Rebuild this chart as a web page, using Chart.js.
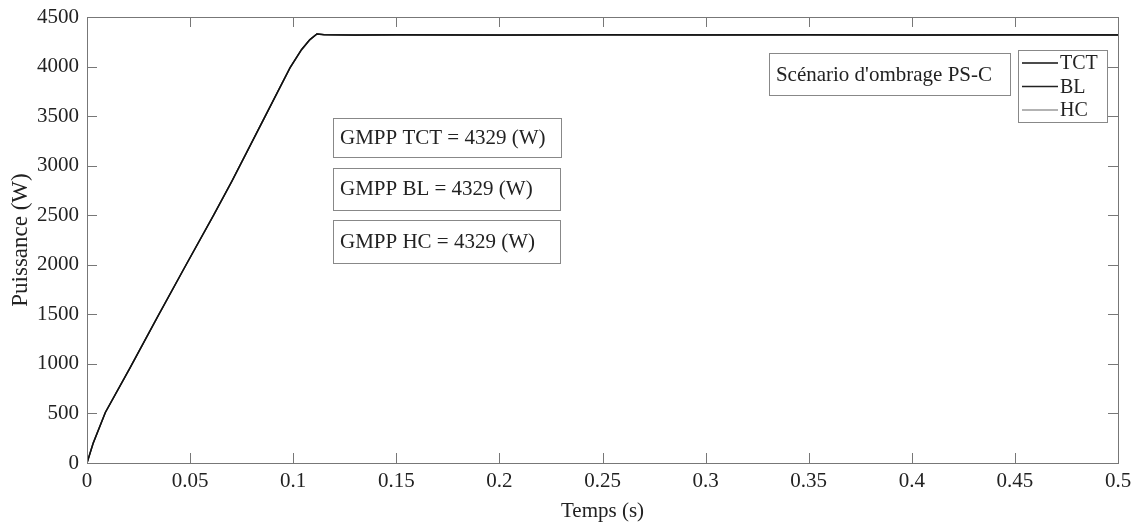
<!DOCTYPE html>
<html>
<head>
<meta charset="utf-8">
<script src="https://cdn.jsdelivr.net/npm/chart.js@4.4.1/dist/chart.umd.min.js"></script>
<style>
  html, body { margin: 0; padding: 0; background: #fff; }
  #wrap { width: 1139px; height: 527px; }
</style>
</head>
<body>
<div id="wrap"><canvas id="myChart" width="1139" height="527"></canvas></div>
<script>
// time (s) and power (W)
const temps = [0, 0.003, 0.0089, 0.021, 0.034, 0.047, 0.0614, 0.0703, 0.0857, 0.0985, 0.104, 0.108, 0.1115, 0.115, 0.13, 0.15, 0.2, 0.25, 0.3, 0.35, 0.4, 0.45, 0.5];
const tct = [0, 200, 510, 965, 1466, 1960, 2500, 2845, 3470, 3990, 4170, 4270, 4329, 4322, 4318, 4320, 4318, 4320, 4319, 4320, 4318, 4320, 4319];
const bl  = [0, 200, 510, 965, 1466, 1960, 2500, 2845, 3470, 3990, 4170, 4270, 4329, 4322, 4318, 4320, 4318, 4320, 4319, 4320, 4318, 4320, 4319];
const hc  = [0, 205, 512, 966, 1466, 1960, 2500, 2845, 3470, 3990, 4165, 4268, 4329, 4321, 4318, 4319, 4318, 4320, 4318, 4320, 4318, 4319, 4318];

const xTicks = [0, 0.05, 0.1, 0.15, 0.2, 0.25, 0.3, 0.35, 0.4, 0.45, 0.5];
const yTicks = [0, 500, 1000, 1500, 2000, 2500, 3000, 3500, 4000, 4500];

const seriesNames = ['TCT', 'BL', 'HC'];
const seriesColors = ['#111', '#222', '#9a9a9a'];

const gmppLabels = ['GMPP TCT = 4329 (W)', 'GMPP BL = 4329 (W)', 'GMPP HC = 4329 (W)'];
const scenarioLabel = "Scénario d'ombrage PS-C";

const FONT = '"Liberation Serif", "DejaVu Serif", serif';

function pts(vals) {
  return temps.map((t, i) => ({ x: t, y: vals[i] }));
}

// boxes in data coordinates: [x0, x1, yTop, yBottom]
const textBoxes = [
  { text: gmppLabels[0], box: [0.1193, 0.2299, 3481, 3088] },
  { text: gmppLabels[1], box: [0.1193, 0.2294, 2977, 2553] },
  { text: gmppLabels[2], box: [0.1193, 0.2294, 2452, 2018] },
  { text: scenarioLabel, box: [0.3307, 0.4476, 4137, 3713] }
];

const framePlugin = {
  id: 'frame',
  afterDraw(chart) {
    const ctx = chart.ctx;
    const a = chart.chartArea;
    const xs = chart.scales.x, ys = chart.scales.y;
    ctx.save();
    ctx.strokeStyle = '#777';
    ctx.lineWidth = 1;
    ctx.strokeRect(a.left + 0.5, a.top + 0.5, a.right - a.left, a.bottom - a.top);
    ctx.beginPath();
    xTicks.forEach(v => {
      const px = Math.round(xs.getPixelForValue(v)) + 0.5;
      ctx.moveTo(px, a.bottom); ctx.lineTo(px, a.bottom - 10);
      ctx.moveTo(px, a.top); ctx.lineTo(px, a.top + 10);
    });
    yTicks.forEach(v => {
      const py = Math.round(ys.getPixelForValue(v)) + 0.5;
      ctx.moveTo(a.left, py); ctx.lineTo(a.left + 10, py);
      ctx.moveTo(a.right, py); ctx.lineTo(a.right - 10, py);
    });
    ctx.stroke();

    // annotation boxes
    ctx.font = '21px ' + FONT;
    ctx.textBaseline = 'middle';
    ctx.textAlign = 'left';
    textBoxes.forEach(b => {
      const x0 = xs.getPixelForValue(b.box[0]), x1 = xs.getPixelForValue(b.box[1]);
      const y0 = ys.getPixelForValue(b.box[2]), y1 = ys.getPixelForValue(b.box[3]);
      ctx.fillStyle = '#fff';
      ctx.fillRect(x0, y0, x1 - x0, y1 - y0);
      ctx.strokeStyle = '#888';
      ctx.strokeRect(Math.round(x0) + 0.5, Math.round(y0) + 0.5, Math.round(x1 - x0), Math.round(y1 - y0));
      ctx.fillStyle = '#222';
      ctx.fillText(b.text, x0 + 7, (y0 + y1) / 2 + 1);
    });

    // legend
    const lx0 = xs.getPixelForValue(0.4515), lx1 = xs.getPixelForValue(0.4947);
    const ly0 = ys.getPixelForValue(4167), ly1 = ys.getPixelForValue(3441);
    ctx.fillStyle = '#fff';
    ctx.fillRect(lx0, ly0, lx1 - lx0, ly1 - ly0);
    ctx.strokeStyle = '#888';
    ctx.strokeRect(Math.round(lx0) + 0.5, Math.round(ly0) + 0.5, Math.round(lx1 - lx0), Math.round(ly1 - ly0));
    ctx.font = '20px ' + FONT;
    seriesNames.forEach((name, i) => {
      const ry = ly0 + 13 + i * 23.5;
      ctx.strokeStyle = seriesColors[i];
      ctx.lineWidth = 1.5;
      ctx.beginPath();
      ctx.moveTo(lx0 + 4, ry); ctx.lineTo(lx0 + 40, ry);
      ctx.stroke();
      ctx.fillStyle = '#222';
      ctx.fillText(name, lx0 + 42, ry + 1);
    });
    ctx.restore();
  }
};

const ctx = document.getElementById('myChart').getContext('2d');
const myChart = new Chart(ctx, {
  type: 'line',
  data: {
    datasets: [
      { label: 'HC', data: pts(hc), borderColor: seriesColors[2], borderWidth: 1.5, pointRadius: 0, order: 3 },
      { label: 'BL', data: pts(bl), borderColor: seriesColors[1], borderWidth: 1.5, pointRadius: 0, order: 2 },
      { label: 'TCT', data: pts(tct), borderColor: seriesColors[0], borderWidth: 1.3, pointRadius: 0, order: 1 }
    ]
  },
  options: {
    responsive: false,
    animation: false,
    layout: { padding: { top: 17, right: 21, left: 0, bottom: 0 } },
    plugins: { legend: { display: false }, tooltip: { enabled: false } },
    scales: {
      x: {
        type: 'linear', min: 0, max: 0.5,
        afterBuildTicks: s => { s.ticks = xTicks.map(v => ({ value: v })); },
        afterFit: s => { s.height = 64; },
        grid: { display: false },
        border: { display: false },
        ticks: { color: '#222', font: { family: FONT, size: 21 }, padding: -2, maxRotation: 0, callback: v => String(v) },
        title: { display: true, text: 'Temps (s)', color: '#222', font: { family: FONT, size: 21 }, padding: { top: 0, bottom: 3 } }
      },
      y: {
        type: 'linear', min: 0, max: 4500,
        afterBuildTicks: s => { s.ticks = yTicks.map(v => ({ value: v })); },
        afterFit: s => { s.width = 87; },
        grid: { display: false },
        border: { display: false },
        ticks: { color: '#222', font: { family: FONT, size: 21 }, padding: 0, callback: v => String(v) },
        title: { display: true, text: 'Puissance (W)', color: '#222', font: { family: FONT, size: 23 }, padding: { top: 7, bottom: 0 } }
      }
    }
  },
  plugins: [framePlugin]
});
</script>
</body>
</html>
